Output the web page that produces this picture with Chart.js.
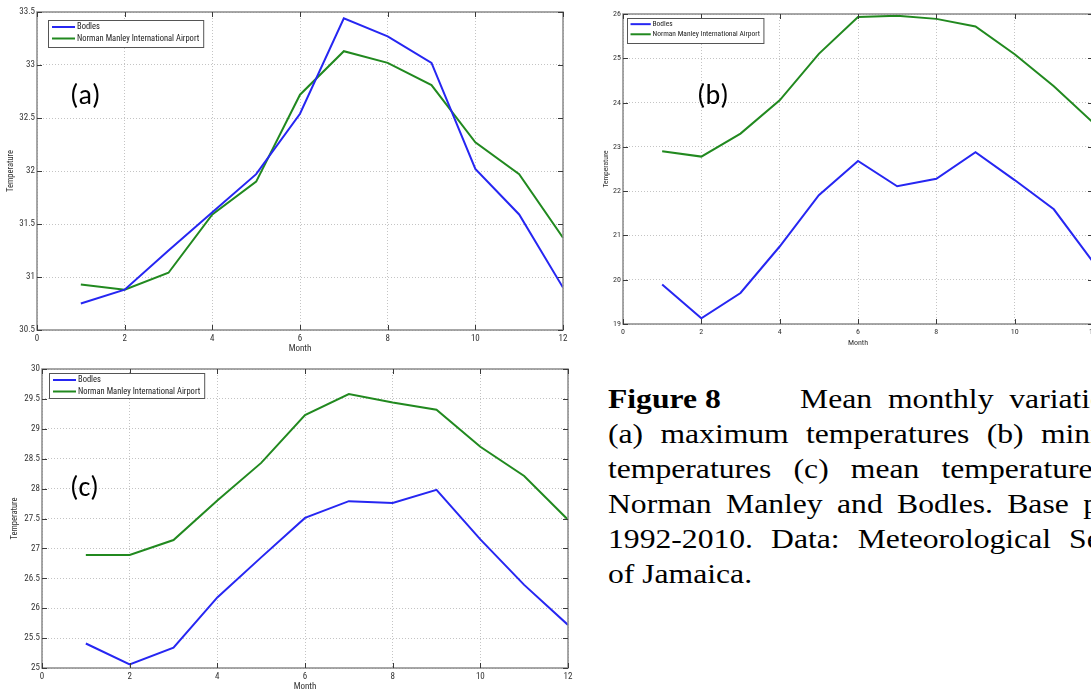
<!DOCTYPE html>
<html>
<head>
<meta charset="utf-8">
<script src="https://cdn.jsdelivr.net/npm/chart.js@4.4.0/dist/chart.umd.min.js"></script>
<style>
  html, body { margin: 0; padding: 0; background: #fff; overflow: hidden; }
  body { width: 1091px; height: 692px; position: relative; }
  canvas { position: absolute; }
  .tag { position: absolute; font-family: Carlito, Lato, sans-serif; font-size: 28px; line-height: 28px; color: #000; }
  .caption { position: absolute; left: 608px; top: 381px; width: 492px; font-family: 'Liberation Serif', 'Times New Roman', serif; font-size: 28px; line-height: 35px; color: #000; transform: scaleX(1.13); transform-origin: 0 0; }
  .caption div { text-align: justify; text-align-last: justify; white-space: nowrap; }
  .caption .first { text-align-last: left; }
  .caption .first span { display: inline-block; position: absolute; left: 170px; width: 322px; text-align: justify; text-align-last: justify; }
  .caption .last { text-align-last: left; }
</style>
</head>
<body>
<canvas id="chartA" width="575" height="360" style="left:0;top:0"></canvas>
<canvas id="chartB" width="510" height="350" style="left:590px;top:0"></canvas>
<canvas id="chartC" width="580" height="332" style="left:0;top:360px"></canvas>

<div class="tag" style="left:70px;top:81px">(a)</div>
<div class="tag" style="left:697px;top:81px">(b)</div>
<div class="tag" style="left:70px;top:473px">(c)</div>

<div class="caption">
  <div class="first"><b>Figure 8</b><span>Mean monthly variation of</span></div>
  <div>(a) maximum temperatures (b) minimum</div>
  <div>temperatures (c) mean temperatures for</div>
  <div>Norman Manley and Bodles. Base period</div>
  <div>1992-2010. Data: Meteorological Service</div>
  <div class="last">of Jamaica.</div>
</div>

<script>
const months = [1, 2, 3, 4, 5, 6, 7, 8, 9, 10, 11, 12]
const seriesNames = ['Bodles', 'Norman Manley International Airport']

// (a) maximum temperatures
const maxBodles = [30.75, 30.88, 31.25, 31.61, 31.97, 32.54, 33.44, 33.27, 33.02, 32.02, 31.59, 30.90]
const maxNorman = [30.93, 30.88, 31.04, 31.59, 31.90, 32.72, 33.13, 33.02, 32.81, 32.27, 31.97, 31.37]

// (b) minimum temperatures
const minBodles = [19.89, 19.13, 19.70, 20.75, 21.91, 22.68, 22.11, 22.28, 22.88, 22.25, 21.59, 20.40]
const minNorman = [22.90, 22.78, 23.30, 24.05, 25.10, 25.93, 25.96, 25.89, 25.72, 25.09, 24.37, 23.55]

// (c) mean temperatures
const meanBodles = [25.41, 25.06, 25.34, 26.18, 26.85, 27.51, 27.79, 27.76, 27.98, 27.15, 26.39, 25.72]
const meanNorman = [26.89, 26.89, 27.14, 27.80, 28.43, 29.23, 29.58, 29.44, 29.32, 28.70, 28.21, 27.48]

const xTicks = [0, 2, 4, 6, 8, 10, 12]
const yTicksA = [30.5, 31, 31.5, 32, 32.5, 33, 33.5]
const yTicksB = [19, 20, 21, 22, 23, 24, 25, 26]
const yTicksC = [25, 25.5, 26, 26.5, 27, 27.5, 28, 28.5, 29, 29.5, 30]

const bodlesColor = '#2626f2'
const normanColor = '#21891f'
const narrow = "'Roboto Condensed', 'DejaVu Sans Condensed', sans-serif"

// matlab style axes box with inward ticks
const axisBox = {
  id: 'axisBox',
  afterDatasetsDraw (chart) {
    const { ctx, chartArea: a, scales: { x, y } } = chart
    ctx.save()
    ctx.strokeStyle = '#8a8a8a'
    ctx.lineWidth = 1.5
    ctx.strokeRect(a.left, a.top, a.width, a.height)
    ctx.strokeStyle = '#3a3a3a'
    ctx.lineWidth = 1
    ctx.beginPath()
    x.ticks.forEach(t => {
      const px = Math.round(x.getPixelForValue(t.value)) + 0.5
      ctx.moveTo(px, a.bottom); ctx.lineTo(px, a.bottom - 5)
      ctx.moveTo(px, a.top); ctx.lineTo(px, a.top + 5)
    })
    y.ticks.forEach(t => {
      const py = Math.round(y.getPixelForValue(t.value)) + 0.5
      ctx.moveTo(a.left, py); ctx.lineTo(a.left + 5, py)
      ctx.moveTo(a.right, py); ctx.lineTo(a.right - 5, py)
    })
    ctx.stroke()
    ctx.restore()
  }
}

// boxed legend in the upper left corner of the axes
const boxLegend = {
  id: 'boxLegend',
  afterDraw (chart, args, opts) {
    const { ctx, chartArea: a } = chart
    const k = opts.k
    ctx.save()
    ctx.font = (8.5 * k) + 'px ' + narrow
    const sets = chart.data.datasets
    const textW = Math.max(...sets.map(d => ctx.measureText(d.label).width))
    const left = a.left + opts.dx
    const top = a.top + opts.dy
    const w = 30 * k + textW + 3 * k
    const h = opts.h
    ctx.fillStyle = '#fff'
    ctx.fillRect(left, top, w, h)
    ctx.strokeStyle = '#555'
    ctx.lineWidth = 1
    ctx.strokeRect(left + 0.5, top + 0.5, w, h)
    sets.forEach((d, i) => {
      const ry = top + (i === 0 ? 7 : 18.5) * k
      ctx.strokeStyle = d.borderColor
      ctx.lineWidth = 2
      ctx.beginPath()
      ctx.moveTo(left + 4 * k, ry); ctx.lineTo(left + 27 * k, ry)
      ctx.stroke()
      ctx.fillStyle = '#222'
      ctx.textBaseline = 'middle'
      ctx.fillText(d.label, left + 29 * k, ry)
    })
    ctx.restore()
  }
}

function buildPanel (id, bodles, norman, yTicks, cfg) {
  const fontSize = cfg.font
  const series = [bodles, norman]
  const colors = [bodlesColor, normanColor]
  return new Chart(document.getElementById(id), {
    type: 'line',
    data: {
      datasets: series.map((values, i) => ({
        label: seriesNames[i],
        data: months.map((m, j) => ({ x: m, y: values[j] })),
        borderColor: colors[i],
        borderWidth: 2,
        pointRadius: 0,
        tension: 0,
        fill: false
      }))
    },
    options: {
      responsive: false,
      animation: false,
      events: [],
      layout: { padding: { top: cfg.top, right: cfg.right, left: 0, bottom: 0 } },
      plugins: {
        legend: { display: false },
        tooltip: { enabled: false },
        boxLegend: cfg.legend
      },
      scales: {
        x: {
          type: 'linear',
          min: 0,
          max: 12,
          afterBuildTicks: s => { s.ticks = xTicks.map(v => ({ value: v })) },
          afterFit: s => { s.height = cfg.xHeight; s.paddingLeft = 0; s.paddingRight = 0 },
          grid: { color: '#c4c4c4', lineWidth: 1, drawTicks: false },
          border: { display: false, dash: [1, 2] },
          ticks: { padding: 3, color: '#333', font: { family: narrow, size: fontSize }, maxRotation: 0, callback: v => String(v) },
          title: { display: true, text: 'Month', color: '#333', font: { family: narrow, size: fontSize }, padding: { top: 0, bottom: cfg.monthPad } }
        },
        y: {
          type: 'linear',
          min: yTicks[0],
          max: yTicks[yTicks.length - 1],
          afterBuildTicks: s => { s.ticks = yTicks.map(v => ({ value: v })) },
          afterFit: s => { s.width = cfg.yWidth; s.paddingTop = 0; s.paddingBottom = 0 },
          grid: { color: '#c4c4c4', lineWidth: 1, drawTicks: false },
          border: { display: false, dash: [1, 2] },
          ticks: { padding: 2, color: '#333', font: { family: narrow, size: fontSize }, callback: v => String(v) },
          title: { display: true, text: 'Temperature', color: '#333', font: { family: narrow, size: fontSize - 0.5 }, padding: { top: cfg.tempPad, bottom: 0 } }
        }
      }
    },
    plugins: [axisBox, boxLegend]
  })
}

buildPanel('chartA', maxBodles, maxNorman, yTicksA, {
  font: 9, top: 12, right: 12, yWidth: 37, xHeight: 30, monthPad: 6, tempPad: 6,
  legend: { k: 1, dx: 11, dy: 8, h: 27 }
})

buildPanel('chartB', minBodles, minNorman, yTicksB, {
  font: 8, top: 14, right: 7, yWidth: 33, xHeight: 26, monthPad: 2, tempPad: 12,
  legend: { k: 0.88, dx: 4, dy: 4, h: 25 }
})

buildPanel('chartC', meanBodles, meanNorman, yTicksC, {
  font: 9, top: 9, right: 12, yWidth: 42, xHeight: 24, monthPad: 0, tempPad: 10,
  legend: { k: 1, dx: 7, dy: 4, h: 25 }
})
</script>
</body>
</html>
